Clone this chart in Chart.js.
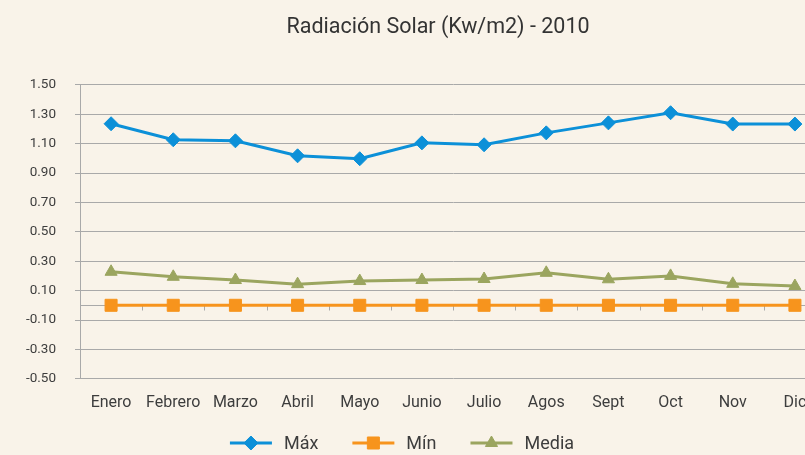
<!DOCTYPE html>
<html><head><meta charset="utf-8">
<script src="https://cdn.jsdelivr.net/npm/chart.js@4/dist/chart.umd.min.js"></script>
<style>
html,body{margin:0;padding:0;background:#f9f3e9;overflow:hidden;}
#wrap{width:805px;height:455px;overflow:hidden;position:relative;background:#f9f3e9;}
#c{position:absolute;left:0;top:0;}
</style></head><body>
<div id="wrap"><canvas id="c" width="876" height="455"></canvas></div>
<script>
const categories = ['Enero','Febrero','Marzo','Abril','Mayo','Junio','Julio','Agos','Sept','Oct','Nov','Dic'];
const maxValues = [1.235, 1.126, 1.119, 1.017, 0.997, 1.105, 1.092, 1.173, 1.241, 1.310, 1.233, 1.233];
const minValues = [0, 0, 0, 0, 0, 0, 0, 0, 0, 0, 0, 0];
const mediaValues = [0.228, 0.194, 0.172, 0.144, 0.165, 0.172, 0.179, 0.221, 0.177, 0.200, 0.146, 0.131];
const seriesNames = ['Máx', 'Mín', 'Media'];
const yMin = -0.5, yMax = 1.5, yStep = 0.2;
const titleText = 'Radiación Solar (Kw/m2) - 2010';

const BLUE = '#0c90d8', ORANGE = '#f7941d', OLIVE = '#9ba55f';
const GRID = '#a9a9a9', TEXT = '#3d3d3d';

function drawMarker(ctx, style, x, y, r) {
  ctx.beginPath();
  if (style === 'rectRot') {
    ctx.moveTo(x, y - r); ctx.lineTo(x + r, y); ctx.lineTo(x, y + r); ctx.lineTo(x - r, y);
  } else if (style === 'rect') {
    const s = r * Math.SQRT1_2;
    ctx.rect(x - s, y - s, 2 * s, 2 * s);
  } else {
    const h = Math.cos(Math.PI / 6) * r;
    ctx.moveTo(x, y - r); ctx.lineTo(x + h, y + r / 2); ctx.lineTo(x - h, y + r / 2);
  }
  ctx.closePath(); ctx.fill(); ctx.stroke();
}

const zeroLine = {
  id: 'zeroLine',
  beforeDatasetsDraw(chart) {
    const ctx = chart.ctx, a = chart.chartArea, xs = chart.scales.x;
    const y0 = Math.round(chart.scales.y.getPixelForValue(0)) + 0.5;
    ctx.save();
    ctx.strokeStyle = GRID; ctx.lineWidth = 1;
    ctx.beginPath(); ctx.moveTo(a.left, y0); ctx.lineTo(a.right, y0);
    for (let i = 1; i < categories.length; i++) {
      const x = Math.round((xs.getPixelForValue(i - 1) + xs.getPixelForValue(i)) / 2) + 0.5;
      ctx.moveTo(x, y0); ctx.lineTo(x, y0 + 5);
    }
    ctx.stroke(); ctx.restore();
  }
};

const excelLegend = {
  id: 'excelLegend',
  afterDraw(chart) {
    const ctx = chart.ctx;
    ctx.save();
    ctx.font = '18px Roboto, "Liberation Sans", sans-serif';
    ctx.textBaseline = 'middle';
    const lineLen = 42, gap = 12, itemGap = 34;
    const items = chart.data.datasets.map(d => ({label: d.label, color: d.borderColor, style: d.pointStyle, r: d.pointRadius, w: lineLen + gap + ctx.measureText(d.label).width}));
    const total = items.reduce((s, it) => s + it.w, 0) + itemGap * (items.length - 1);
    let x = 402 - total / 2;
    const y = 443;
    items.forEach(it => {
      ctx.strokeStyle = it.color; ctx.fillStyle = it.color; ctx.lineWidth = 3;
      ctx.beginPath(); ctx.moveTo(x, y); ctx.lineTo(x + lineLen, y); ctx.stroke();
      ctx.lineWidth = 1;
      drawMarker(ctx, it.style, x + lineLen / 2, y, it.r);
      ctx.fillStyle = TEXT;
      ctx.fillText(it.label, x + lineLen + gap, y + 1);
      x += it.w + itemGap;
    });
    ctx.restore();
  }
};

function ds(label, data, color, style, r) {
  return {label, data, yAxisID: 'y', xAxisID: 'x', borderColor: color, backgroundColor: color, borderWidth: 3,
    pointStyle: style, pointRadius: r, pointHoverRadius: r, pointBorderWidth: 1,
    pointBackgroundColor: color, pointBorderColor: color, tension: 0};
}

new Chart(document.getElementById('c'), {
  type: 'line',
  data: {
    labels: categories,
    datasets: [
      ds(seriesNames[0], maxValues, BLUE, 'rectRot', 7),
      ds(seriesNames[1], minValues, ORANGE, 'rect', 8.5),
      ds(seriesNames[2], mediaValues, OLIVE, 'triangle', 7)
    ]
  },
  options: {
    responsive: false, animation: false, devicePixelRatio: 1,
    layout: {padding: {left: 0, right: 0, top: 0, bottom: 27}},
    plugins: {
      legend: {display: false},
      tooltip: {enabled: false},
      title: {display: true, text: titleText, color: '#333',
        font: {family: 'Roboto', size: 21.5, weight: 'normal'},
        padding: {top: 15, bottom: 44}}
    },
    scales: {
      x: {
        offset: true,
        grid: {display: false, drawTicks: false},
        border: {display: false},
        ticks: {color: TEXT, padding: 15, autoSkip: false, maxRotation: 0,
          font: {family: '"Liberation Sans Narrow", Roboto', size: 16}}
      },
      y: {
        min: yMin, max: yMax,
        afterFit(s) { s.width = 80; },
        grid: {color: GRID, lineWidth: 1, tickLength: 5, drawTicks: true},
        border: {display: true, color: GRID},
        ticks: {stepSize: yStep, color: TEXT, padding: 19,
          font: {family: 'Roboto', size: 13.5},
          callback: v => Number(v).toFixed(2)}
      },
      yRight: {
        position: 'right', display: true,
        grid: {display: false, drawTicks: false},
        border: {display: false},
        ticks: {display: false},
        afterFit(s) { s.width = 50; }
      }
    }
  },
  plugins: [zeroLine, excelLegend]
});
</script>
</body></html>
